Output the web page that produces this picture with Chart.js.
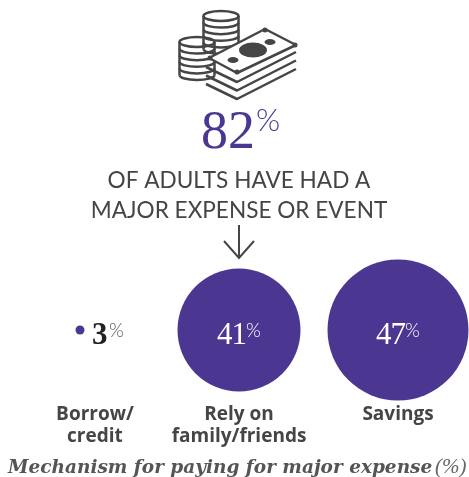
<!DOCTYPE html>
<html>
<head>
<meta charset="utf-8">
<title>Major expenses</title>
<script src="https://cdn.jsdelivr.net/npm/chart.js@4"></script>
<style>
  html, body { margin: 0; padding: 0; background: #fff; }
  canvas { display: block; }
</style>
</head>
<body>
<canvas id="mechanismChart" width="469" height="477"></canvas>
<script>
// Data
const categories = [["Borrow/", "credit"], ["Rely on", "family/friends"], ["Savings"]];
const shares = [3, 41, 47];
const headlineShare = 82;
const headlineLines = ["OF ADULTS HAVE HAD A", "MAJOR EXPENSE OR EVENT"];
const captionMain = "Mechanism for paying for major expense";
const captionUnit = "(%)";

const PURPLE = "#4b3792";
const INK = "#454545";

// Circle radius grows linearly with the share
const RADIUS_PER_POINT = 1.5;
// The first label sits under the dot and its value together
const tickPositions = [0.094, 1, 2];

// ---------- TEXT HELPER ----------
function text(ctx, str, x, y, font, color, align = "left", spacing = "0px") {
  ctx.font = font;
  ctx.fillStyle = color;
  ctx.textAlign = align;
  ctx.textBaseline = "alphabetic";
  ctx.letterSpacing = spacing;
  ctx.fillText(str, x, y);
  ctx.letterSpacing = "0px";
}

// ---------- COINS AND BANKNOTES ICON ----------
function drawCoinStack(ctx, cx, top, rings) {
  const rx = 17.5, ry = 5;
  ctx.beginPath();
  ctx.ellipse(cx, top, rx, ry, 0, 0, Math.PI * 2);
  ctx.stroke();
  for (let i = 1; i <= rings; i++) {
    ctx.beginPath();
    ctx.ellipse(cx, top + i * 6.6, rx, ry, 0, 0.02, Math.PI - 0.02);
    ctx.stroke();
  }
  ctx.beginPath();
  ctx.moveTo(cx - rx, top);
  ctx.lineTo(cx - rx, top + rings * 6.6);
  ctx.moveTo(cx + rx, top);
  ctx.lineTo(cx + rx, top + rings * 6.6);
  ctx.stroke();
}

function drawIcon(ctx) {
  ctx.save();
  ctx.strokeStyle = INK;
  ctx.fillStyle = INK;
  ctx.lineWidth = 2.5;
  ctx.lineJoin = "round";
  drawCoinStack(ctx, 221, 16, 5);
  drawCoinStack(ctx, 197, 42, 5);

  // paper stack, lowest sheet first
  for (const shift of [26, 17.5, 9]) {
    ctx.beginPath();
    ctx.moveTo(206, 58 + shift);
    ctx.lineTo(237, 73 + shift);
    ctx.lineTo(296, 45 + shift - 2);
    ctx.stroke();
  }

  // top note
  ctx.beginPath();
  ctx.moveTo(265, 29);
  ctx.lineTo(296, 45);
  ctx.lineTo(237, 73);
  ctx.lineTo(209, 58);
  ctx.closePath();
  ctx.fillStyle = "#fff";
  ctx.fill();
  ctx.stroke();
  ctx.fillStyle = INK;
  for (const [x, y, rx, ry] of [[253, 50, 14, 7.5], [233, 60, 5.5, 3], [270, 42, 5.5, 3]]) {
    ctx.beginPath();
    ctx.ellipse(x, y, rx, ry, 0, 0, Math.PI * 2);
    ctx.fill();
  }
  for (const [x, y] of [[265, 30], [295, 45], [237, 72], [210, 58]]) {
    ctx.beginPath();
    ctx.arc(x, y, 2.5, 0, Math.PI * 2);
    ctx.fill();
  }
  ctx.restore();
}

// ---------- HEADING, ARROW, VALUES, CAPTION ----------
const annotations = {
  id: "annotations",
  afterDraw(chart) {
    const ctx = chart.ctx;
    drawIcon(ctx);

    text(ctx, String(headlineShare), 201, 148, "54px 'Liberation Serif'", PURPLE);
    text(ctx, "%", 256, 131, "300 31px Lato", PURPLE);
    text(ctx, headlineLines[0], 239, 188, "22.6px Lato", INK, "center");
    text(ctx, headlineLines[1], 239, 218, "22.6px Lato", INK, "center");

    // arrow
    ctx.save();
    ctx.strokeStyle = INK;
    ctx.lineWidth = 2;
    ctx.beginPath();
    ctx.moveTo(239, 225);
    ctx.lineTo(239, 258);
    ctx.moveTo(224, 241);
    ctx.lineTo(239, 258);
    ctx.lineTo(254, 241);
    ctx.stroke();
    ctx.restore();

    // value labels, read from the same shares as the circles
    const points = chart.getDatasetMeta(0).data;
    const baseline = points[0].y + 14;
    text(ctx, String(shares[0]), points[0].x + 12, baseline, "bold 31px 'Liberation Serif'", "#222");
    text(ctx, "%", points[0].x + 29, baseline - 7, "300 19px Lato", "#555");
    for (const i of [1, 2]) {
      text(ctx, String(shares[i]), points[i].x - 22, baseline, "31px 'Liberation Serif'", "#fff", "left", "-1px");
      text(ctx, "%", points[i].x + 7, baseline - 7, "300 19px Lato", "#fff");
    }

    // caption
    text(ctx, captionMain, 8, 473, "italic bold 18.5px 'DejaVu Serif'", "#555");
    text(ctx, captionUnit, 435, 473, "italic 21px 'Liberation Serif'", "#666");
  }
};

new Chart(document.getElementById("mechanismChart"), {
  type: "bubble",
  data: {
    datasets: [{
      data: shares.map((v, i) => ({ x: i, y: 0, r: v * RADIUS_PER_POINT })),
      backgroundColor: PURPLE,
      borderWidth: 0,
      clip: false
    }]
  },
  options: {
    responsive: false,
    animation: false,
    events: [],
    layout: { padding: { top: 258, bottom: 27, left: 80, right: 71 } },
    plugins: { legend: { display: false }, tooltip: { enabled: false } },
    scales: {
      x: {
        type: "linear",
        min: 0,
        max: 2,
        grid: { display: false, drawTicks: false },
        border: { display: false },
        afterBuildTicks: scale => {
          scale.ticks = tickPositions.map(value => ({ value }));
        },
        ticks: {
          autoSkip: false,
          maxRotation: 0,
          padding: 2,
          color: INK,
          font: { family: "'Open Sans'", size: 19, weight: "bold", lineHeight: 22 / 19 },
          callback: (value, index) => categories[index]
        }
      },
      y: { type: "linear", min: -1, max: 1, display: false }
    }
  },
  plugins: [annotations]
});
</script>
</body>
</html>
